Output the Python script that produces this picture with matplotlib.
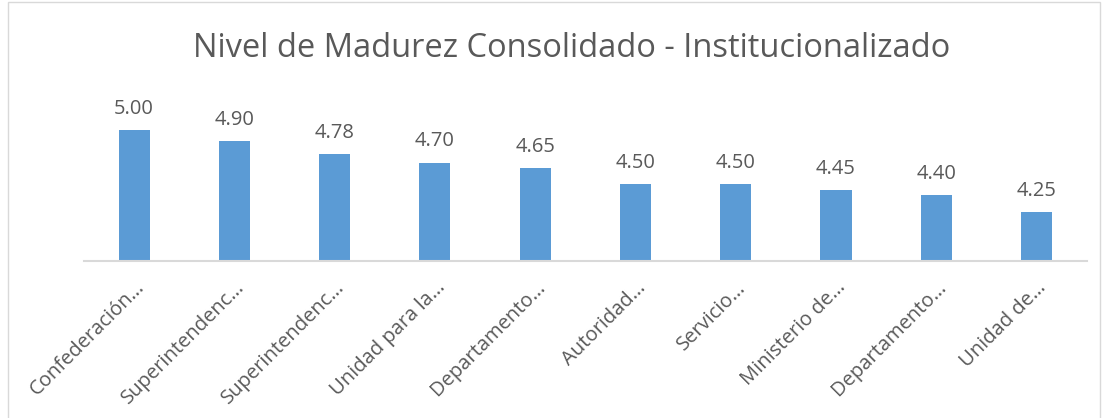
import matplotlib.pyplot as plt
from matplotlib.patches import Rectangle

# Data
categories = ['Confederación…', 'Superintendenc…', 'Superintendenc…', 'Unidad para la…',
              'Departamento…', 'Autoridad…', 'Servicio…', 'Ministerio de…',
              'Departamento…', 'Unidad de…']
values = [5.00, 4.90, 4.78, 4.70, 4.65, 4.50, 4.50, 4.45, 4.40, 4.25]

title = 'Nivel de Madurez Consolidado - Institucionalizado'
bar_color = '#5B9BD5'
text_color = '#595959'

plt.rcParams['font.family'] = ['Open Sans', 'DejaVu Sans']

fig = plt.figure(figsize=(11.08, 4.18), dpi=100)
ax = fig.add_axes([0.0758, 0.376, 0.905, 0.418])

x = range(len(categories))
bars = ax.bar(x, values, width=0.31, color=bar_color, zorder=2)
ax.set_ylim(3.8, 5.4)
ax.set_xlim(-0.5, len(categories) - 0.5)

for b, v in zip(bars, values):
    ax.annotate(f'{v:.2f}', (b.get_x() + b.get_width() / 2, v),
                xytext=(0, 8), textcoords='offset points',
                ha='center', va='bottom', fontsize=14.5, color=text_color)

ax.set_xticks(list(x))
ax.set_xticklabels(categories, rotation=45, ha='right', va='top',
                   rotation_mode='anchor', fontsize=14.5, color=text_color)
ax.tick_params(axis='x', length=0, pad=12)
ax.set_yticks([])
for s in ['top', 'right', 'left']:
    ax.spines[s].set_visible(False)
ax.spines['bottom'].set_color('#D9D9D9')
ax.spines['bottom'].set_linewidth(1.5)

fig.text(0.516, 0.885, title, ha='center', va='center', fontsize=23.5, color=text_color)

# chart border
fig.patches.append(Rectangle((0.007, -0.01), 0.986, 1.005, transform=fig.transFigure,
                             fill=False, edgecolor='#D9D9D9', linewidth=1))

fig.savefig('out.png', dpi=100)
